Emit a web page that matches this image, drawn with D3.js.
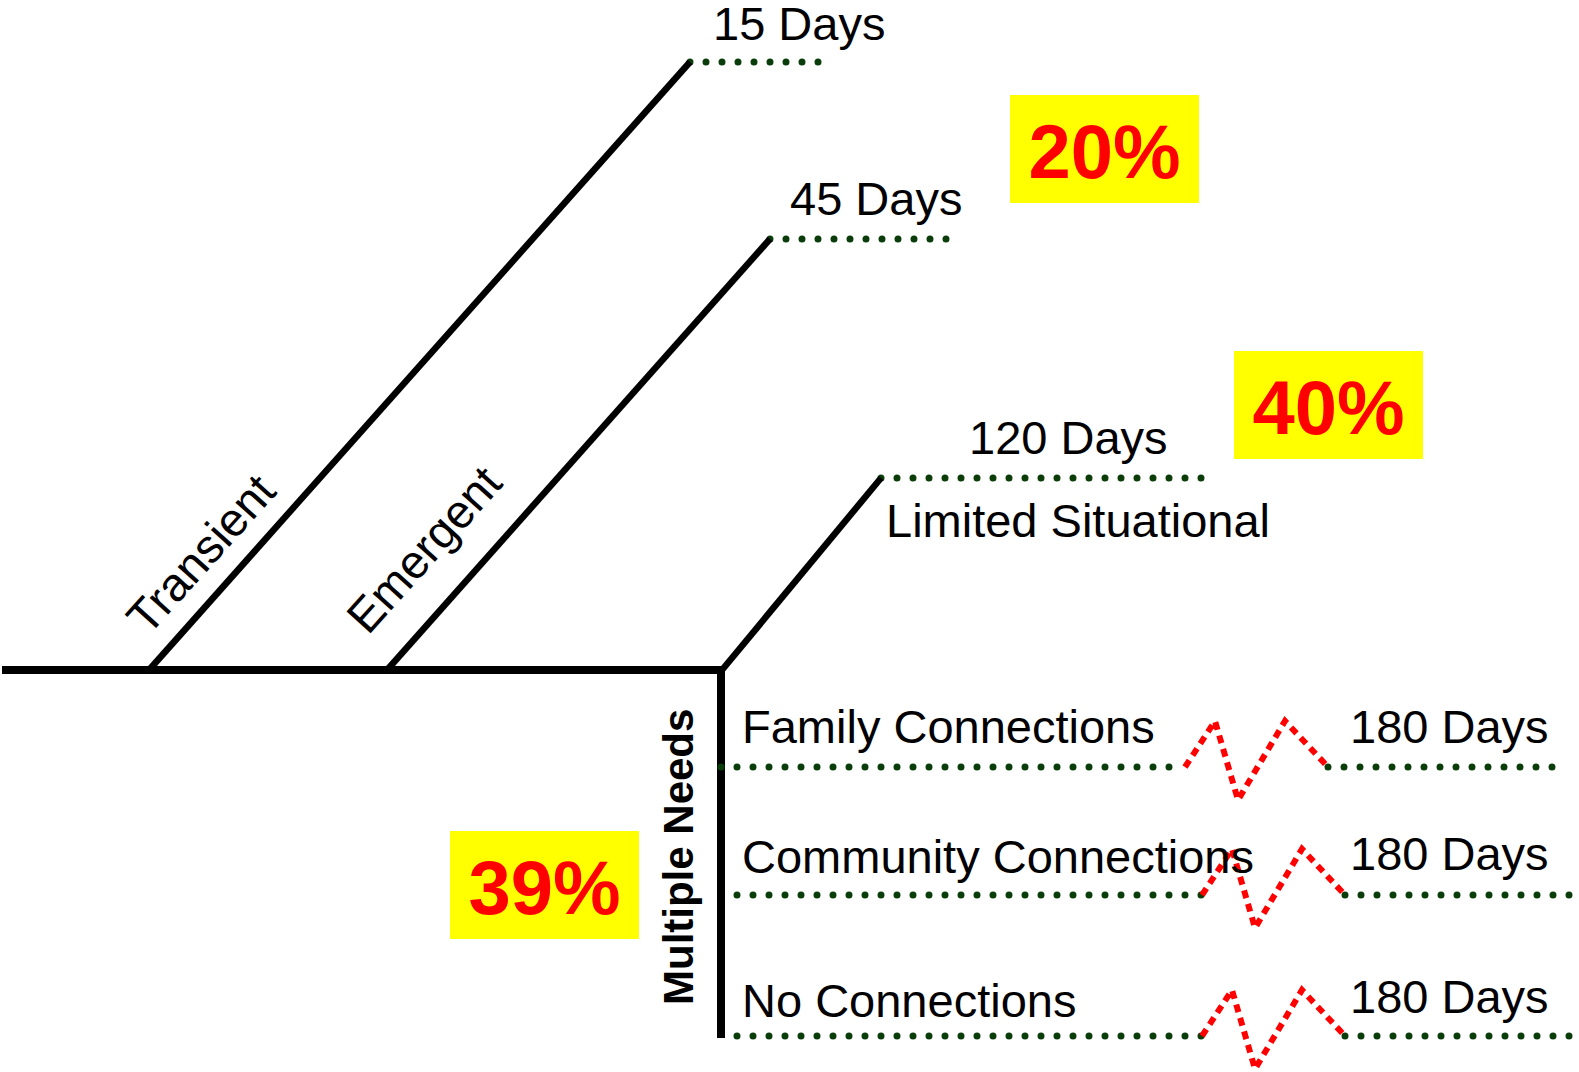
<!DOCTYPE html>
<html>
<head>
<meta charset="utf-8">
<script src="https://cdn.jsdelivr.net/npm/d3@7"></script>
<style>
  html, body { margin: 0; padding: 0; background: #fff; }
  svg { display: block; }
  text { font-family: "Liberation Sans", Arial, sans-serif; }
</style>
</head>
<body>
<div id="chart"></div>
<script>
// data
const branches = ["Transient", "Emergent", "Limited Situational"];
const branchDays = ["15 Days", "45 Days", "120 Days"];
const shares = ["20%", "40%", "39%"];
const needs = ["Family Connections", "Community Connections", "No Connections"];
const needDays = ["180 Days", "180 Days", "180 Days"];

var width = 1579, height = 1072;
var svg = d3.select("#chart").append("svg")
    .attr("width", width)
    .attr("height", height);
svg.append("rect").attr("width", width).attr("height", height).attr("fill", "#fff");

// layout scales (diagram is hand placed, so ordinal lookups)
var footX = d3.scaleOrdinal().domain(branches).range([149, 387, 722]);
var tipX  = d3.scaleOrdinal().domain(branches).range([690, 770, 881]);
var tipY  = d3.scaleOrdinal().domain(branches).range([62, 239, 478]);
var dotEnd = d3.scaleOrdinal().domain(branches).range([821, 949, 1205]);
var dayX  = d3.scaleOrdinal().domain(branches).range([713, 790, 969]);
var dayDy = d3.scaleOrdinal().domain(branches).range([-22, -24, -24]);

var rowY     = d3.scaleOrdinal().domain(needs).range([767, 895, 1036]);
var rowStart = d3.scaleOrdinal().domain(needs).range([721, 737, 737]);
var breakX   = d3.scaleOrdinal().domain(needs).range([1185, 1202, 1202]);
var rowEnd   = d3.scaleOrdinal().domain(needs).range([1555, 1572, 1572]);
var nameDy   = d3.scaleOrdinal().domain(needs).range([-24, -22, -19]);
var daysDy   = d3.scaleOrdinal().domain(needs).range([-24, -25, -23]);

var boxX = d3.scaleOrdinal().domain(shares).range([1010, 1234, 450]);
var boxY = d3.scaleOrdinal().domain(shares).range([95, 351, 831]);
var boxW = 189, boxH = 108;

var spineY = 670;
var green = "#0b3d0b";
var dots = "0 16";

// spine
svg.append("line")
    .attr("x1", 2).attr("x2", 725)
    .attr("y1", spineY).attr("y2", spineY)
    .attr("stroke", "#000").attr("stroke-width", 8);
svg.append("line")
    .attr("x1", 721).attr("x2", 721)
    .attr("y1", spineY - 4).attr("y2", 1038)
    .attr("stroke", "#000").attr("stroke-width", 8);

// dotted day leaders for the branches
svg.append("g").selectAll("line")
  .data(branches)
  .enter().append("line")
    .attr("x1", d => tipX(d)).attr("x2", d => dotEnd(d))
    .attr("y1", d => tipY(d)).attr("y2", d => tipY(d))
    .attr("stroke", green).attr("stroke-width", 7)
    .attr("stroke-linecap", "round")
    .attr("stroke-dasharray", dots);

// diagonal branches
svg.append("g").selectAll("line")
  .data(branches)
  .enter().append("line")
    .attr("x1", d => footX(d)).attr("y1", spineY)
    .attr("x2", d => tipX(d)).attr("y2", d => tipY(d))
    .attr("stroke", "#000").attr("stroke-width", 6.5);

// day labels on top of the leaders
svg.append("g").selectAll("text")
  .data(branches)
  .enter().append("text")
    .attr("x", d => dayX(d))
    .attr("y", d => tipY(d) + dayDy(d))
    .attr("font-size", 47)
    .text((d, i) => branchDays[i]);

// names along the first two branches
var angle = -48;
var namePos = d3.scaleOrdinal().domain(branches.slice(0, 2)).range([[148, 637], [368, 636]]);
svg.append("g").selectAll("text")
  .data(branches.slice(0, 2))
  .enter().append("text")
    .attr("transform", d => "translate(" + namePos(d)[0] + "," + namePos(d)[1] + ") rotate(" + angle + ")")
    .attr("font-size", 47)
    .text(d => d);

// third branch name sits under its leader
svg.append("text")
    .attr("x", 886)
    .attr("y", tipY(branches[2]) + 59)
    .attr("font-size", 47)
    .text(branches[2]);

// multiple needs
svg.append("text")
    .attr("transform", "translate(693,1005) rotate(-90)")
    .attr("font-size", 42)
    .attr("font-weight", "bold")
    .text("Multiple Needs");

var zig = [[0, 0], [30, -46], [53, 33], [100, -46], [143, 0]];
var rows = svg.append("g").selectAll("g")
  .data(needs)
  .enter().append("g");

rows.append("line")
    .attr("x1", d => rowStart(d)).attr("x2", d => breakX(d))
    .attr("y1", d => rowY(d)).attr("y2", d => rowY(d))
    .attr("stroke", green).attr("stroke-width", 7)
    .attr("stroke-linecap", "round")
    .attr("stroke-dasharray", dots);
rows.append("line")
    .attr("x1", d => breakX(d) + 143).attr("x2", d => rowEnd(d))
    .attr("y1", d => rowY(d)).attr("y2", d => rowY(d))
    .attr("stroke", green).attr("stroke-width", 7)
    .attr("stroke-linecap", "round")
    .attr("stroke-dasharray", dots);
rows.append("path")
    .attr("d", d => d3.line()(zig.map(p => [breakX(d) + p[0], rowY(d) + p[1]])))
    .attr("fill", "none")
    .attr("stroke", "#ff0000").attr("stroke-width", 6)
    .attr("stroke-dasharray", "8 6");
rows.append("text")
    .attr("x", 742)
    .attr("y", d => rowY(d) + nameDy(d))
    .attr("font-size", 47)
    .text(d => d);
rows.append("text")
    .attr("x", 1350)
    .attr("y", d => rowY(d) + daysDy(d))
    .attr("font-size", 47)
    .text((d, i) => needDays[i]);

// percentage boxes
var boxes = svg.append("g").selectAll("g")
  .data(shares)
  .enter().append("g");
boxes.append("rect")
    .attr("x", d => boxX(d)).attr("y", d => boxY(d))
    .attr("width", boxW).attr("height", boxH)
    .attr("fill", "#ffff00");
boxes.append("text")
    .attr("x", d => boxX(d) + boxW / 2)
    .attr("y", d => boxY(d) + boxH / 2 + 29)
    .attr("text-anchor", "middle")
    .attr("font-size", 76)
    .attr("font-weight", "bold")
    .attr("fill", "#ff0000")
    .text(d => d);
</script>
</body>
</html>
